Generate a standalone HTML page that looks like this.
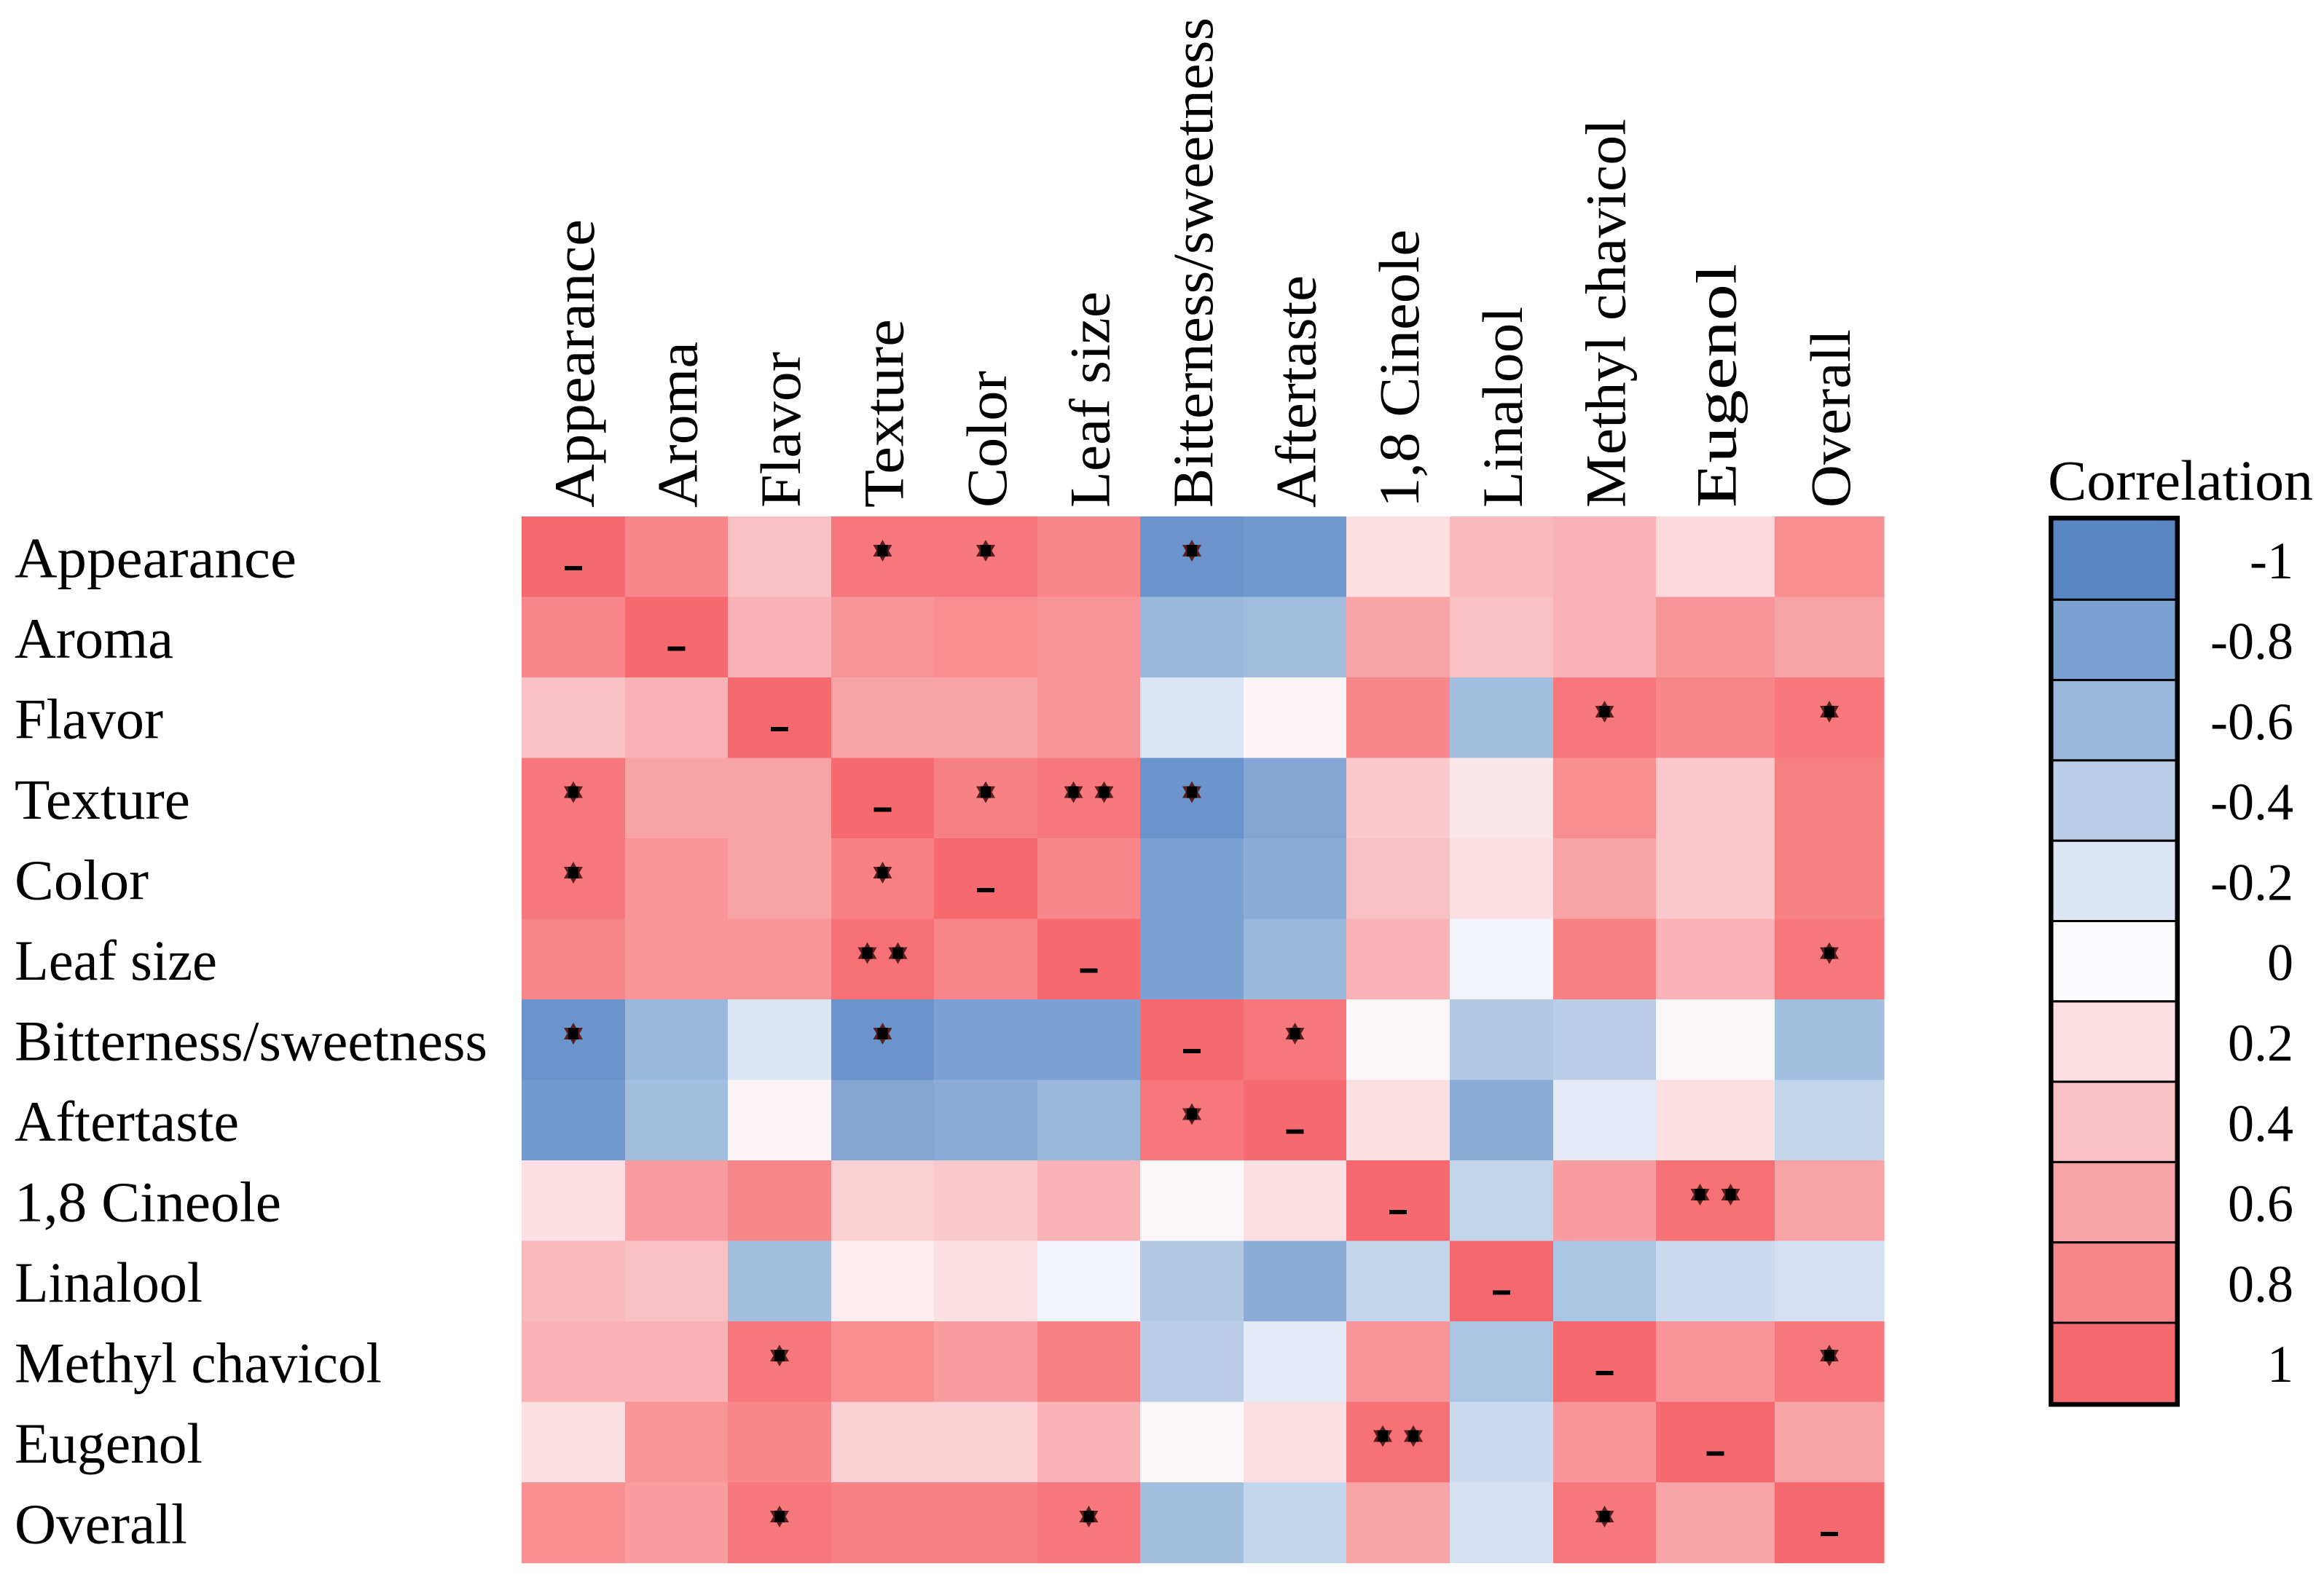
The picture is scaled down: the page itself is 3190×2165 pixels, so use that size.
<!DOCTYPE html>
<html><head><meta charset="utf-8"><style>
html,body{margin:0;padding:0;background:#fff;}
svg{display:block;font-family:"Liberation Serif",serif;}
</style></head><body>
<svg id="chart" width="3190" height="2165" viewBox="0 0 3190 2165" xmlns="http://www.w3.org/2000/svg">
<g id="cells"></g>
<g id="marks"></g>
<g id="rowlabels"></g>
<g id="collabels"></g>
<g id="legend"></g>
</svg>
<script>
const categories = ["Appearance","Aroma","Flavor","Texture","Color","Leaf size","Bitterness/sweetness","Aftertaste","1,8 Cineole","Linalool","Methyl chavicol","Eugenol","Overall"];
const rowAppearance = [1,.8,.4,.9,.9,.8,-.9,-.85,.2,.45,.5,.25,.75];
const rowAroma = [.8,1,.5,.7,.75,.7,-.6,-.55,.6,.4,.5,.7,.6];
const rowFlavor = [.4,.5,1,.6,.6,.7,-.2,.05,.8,-.55,.9,.8,.9];
const rowTexture = [.9,.6,.6,1,.85,.9,-.9,-.75,.35,.15,.75,.35,.85];
const rowColor = [.9,.7,.6,.85,1,.8,-.8,-.7,.4,.2,.6,.35,.85];
const rowLeafSize = [.8,.7,.7,.95,.8,1,-.8,-.6,.5,-.05,.85,.5,.9];
const rowBitterness = [-.9,-.6,-.2,-.9,-.8,-.8,1,.9,.03,-.45,-.4,.03,-.55];
const rowAftertaste = [-.85,-.55,.05,-.75,-.7,-.6,.9,1,.2,-.7,-.15,.2,-.35];
const rowCineole = [.2,.65,.8,.3,.35,.5,.03,.2,1,-.35,.65,.95,.6];
const rowLinalool = [.45,.4,-.55,.1,.2,-.05,-.45,-.7,-.35,1,-.5,-.3,-.25];
const rowMethyl = [.5,.5,.9,.75,.65,.85,-.4,-.15,.7,-.5,1,.7,.9];
const rowEugenol = [.2,.7,.8,.3,.3,.5,.03,.2,.95,-.3,.7,1,.6];
const rowOverall = [.75,.65,.9,.85,.85,.9,-.55,-.35,.6,-.25,.9,.6,1];
const matrix = [rowAppearance,rowAroma,rowFlavor,rowTexture,rowColor,rowLeafSize,rowBitterness,rowAftertaste,rowCineole,rowLinalool,rowMethyl,rowEugenol,rowOverall];
// significance: [row, col, number of stars]
const starRows = [0,0,0,2,2,3,3,3,3,4,4,5,5,6,6,6,7,8,10,10,11,12,12,12];
const starCols = [3,4,6,10,12,0,4,5,6,0,3,3,12,0,3,7,6,11,2,12,8,2,5,10];
const starCounts = [1,1,1,1,1,1,1,2,1,1,1,2,1,1,1,1,1,2,1,1,2,1,1,1];
const legendTicks = [-1,-0.8,-0.6,-0.4,-0.2,0,0.2,0.4,0.6,0.8,1];
const legendTickLabels = ["-1","-0.8","-0.6","-0.4","-0.2","0","0.2","0.4","0.6","0.8","1"];

const NS="http://www.w3.org/2000/svg";
const colEdges=[716,858,999,1141,1282,1424,1565,1707,1848,1990,2132,2273,2436,2586];
const gridTop=709, rowH=110.5;
const rowLabelLen=[387,218,204,241,184,278,649,308,366,258,504,258,237];
const colLabelLen=[396,228,214,259,188,297,673,319,382,276,534,335,245];
const stops=[[88,135,196],[123,160,210],[154,184,220],[186,207,231],[220,229,244],[251,251,253],[251,223,227],[249,193,196],[248,163,166],[247,135,138],[246,105,110]];
function color(v){
  v=Math.max(-1,Math.min(1,v));
  const t=(v+1)/0.2; const i=Math.min(9,Math.floor(t)); const f=t-i;
  const a=stops[i], b=stops[i+1];
  return `rgb(${a.map((c,k)=>Math.round(c+(b[k]-c)*f)).join(',')})`;
}
function xL(j){return colEdges[j];}
function xW(j){return colEdges[j+1]-colEdges[j];}
function yT(i){return gridTop+i*rowH;}
function mk(tag,attrs,parent){const e=document.createElementNS(NS,tag);for(const k in attrs)e.setAttribute(k,attrs[k]);parent.appendChild(e);return e;}

const gc=document.getElementById('cells');
matrix.forEach((row,i)=>row.forEach((v,j)=>{
  const r=mk('rect',{x:xL(j),y:yT(i),width:xW(j)+0.6,height:rowH+0.6,fill:color(v)},gc);
  
  
}));

const gm=document.getElementById('marks');
function star(cx,cy){
  const g=mk('g',{},gm);
  
  
  mk('polygon',{points:`${cx},${cy-15} ${cx+13},${cy+8} ${cx-13},${cy+8}`,fill:'#5a2020'},g);
  mk('polygon',{points:`${cx},${cy+15} ${cx+13},${cy-8} ${cx-13},${cy-8}`,fill:'#5a2020'},g);
  mk('rect',{x:cx-7,y:cy-8,width:14,height:16,fill:'#000'},g);
}
for(let i=0;i<13;i++){
  const d=mk('rect',{x:xL(i)+xW(i)/2-12,y:yT(i)+68,width:24,height:6,fill:'#000'},gm);
  
  
}
starRows.forEach((r,k)=>{
  const c=starCols[k], n=starCounts[k];
  const cx=xL(c)+xW(c)/2, cy=yT(r)+47;
  if(n===1) star(cx,cy); else {star(cx-21,cy);star(cx+21,cy);}
});

const gr=document.getElementById('rowlabels');
categories.forEach((c,i)=>{
  const t=mk('text',{x:20,y:yT(i)+rowH/2+28,'font-size':78,textLength:rowLabelLen[i],lengthAdjust:'spacingAndGlyphs',fill:'#000'},gr);
  t.textContent=c;
  
  
});
const gcl=document.getElementById('collabels');
categories.forEach((c,j)=>{
  const x=xL(j)+xW(j)/2+28, y=697;
  const t=mk('text',{x:x,y:y,transform:`rotate(-90 ${x} ${y})`,'font-size':78,textLength:colLabelLen[j],lengthAdjust:'spacingAndGlyphs',fill:'#000'},gcl);
  t.textContent=c;
  
  
});

const gl=document.getElementById('legend');
const lt=mk('text',{x:2811,y:686,'font-size':78,textLength:364,lengthAdjust:'spacingAndGlyphs',fill:'#000'},gl);
lt.textContent='Correlation';


const lx=2817, lw=170, ltop=713, lh=110.3;
legendTicks.forEach((v,k)=>{
  const r=mk('rect',{x:lx,y:ltop+k*lh,width:lw,height:lh,fill:color(v),stroke:'#000','stroke-width':3},gl);
  
  
  const t=mk('text',{x:3148,y:ltop+k*lh+lh/2+26,'font-size':72,'text-anchor':'end',fill:'#000'},gl);
  t.textContent=legendTickLabels[k];
  
  
});
const ob=mk('rect',{x:lx-2,y:ltop-2,width:lw+4,height:lh*11+4,fill:'none',stroke:'#000','stroke-width':6},gl);


</script>
</body></html>
